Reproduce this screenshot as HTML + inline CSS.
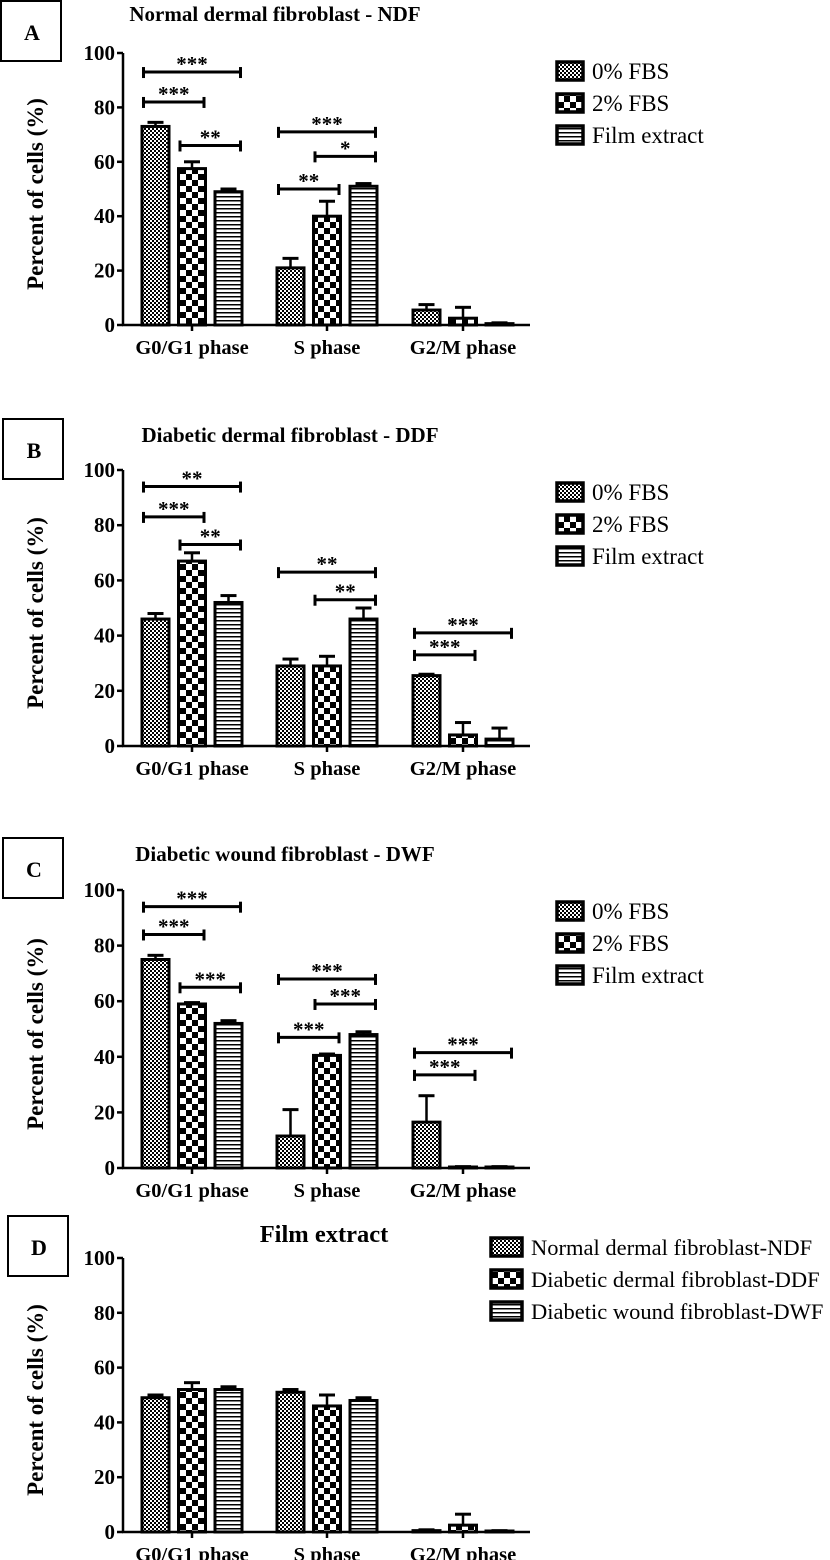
<!DOCTYPE html>
<html><head><meta charset="utf-8"><style>
body{margin:0;background:#fff}
svg{display:block;font-family:"Liberation Serif",serif}
</style></head><body>
<svg id="chart" width="830" height="1560" viewBox="0 0 830 1560">
<defs>
<pattern id="p0" width="4" height="4" patternUnits="userSpaceOnUse"><rect width="4" height="4" fill="#fff"/><rect width="2" height="2" fill="#000"/><rect x="2" y="2" width="2" height="2" fill="#000"/></pattern>
<pattern id="p1" width="12" height="12" patternUnits="userSpaceOnUse"><rect width="12" height="12" fill="#fff"/><rect width="6" height="6" fill="#000"/><rect x="6" y="6" width="6" height="6" fill="#000"/></pattern>
<pattern id="p2" width="4" height="4" patternUnits="userSpaceOnUse"><rect width="4" height="4" fill="#fff"/><rect width="4" height="1.5" fill="#000"/></pattern>
</defs>
</svg>
<script>
const categories=["G0/G1 phase","S phase","G2/M phase"];
const yTicks=[0,20,40,60,80,100];
const titles=["Normal dermal fibroblast - NDF","Diabetic dermal fibroblast - DDF","Diabetic wound fibroblast - DWF","Film extract"];
const letters=["A","B","C","D"];
const legendABC=["0% FBS","2% FBS","Film extract"];
const legendD=["Normal dermal fibroblast-NDF","Diabetic dermal fibroblast-DDF","Diabetic wound fibroblast-DWF"];
const valsA=[[73,21,5.5],[57.5,40,2.5],[49,51,0.5]];
const errA=[[1.5,3.5,2],[2.5,5.5,4],[1,1,0.3]];
const valsB=[[46,29,25.5],[67,29,4],[52,46,2.5]];
const errB=[[2,2.5,0.5],[3,3.5,4.5],[2.5,4,4]];
const valsC=[[75,11.5,16.5],[59,40.5,0.3],[52,48,0.3]];
const errC=[[1.5,9.5,9.5],[0.5,0.5,0.2],[1,1,0.2]];
const valsD=[[49,51,0.5],[52,46,2.5],[52,48,0.3]];
const errD=[[1,1,0.3],[2.5,4,4],[1,1,0.2]];
// significance: [group, fromBar, toBar, yValue, label]
const sigA=[[0,0,2,93,"***"],[0,0,1,82,"***"],[0,1,2,66,"**"],[1,0,2,71,"***"],[1,1,2,62,"*"],[1,0,1,50,"**"]];
const sigB=[[0,0,2,94,"**"],[0,0,1,83,"***"],[0,1,2,73,"**"],[1,0,2,63,"**"],[1,1,2,53,"**"],[2,0,2,41,"***"],[2,0,1,33,"***"]];
const sigC=[[0,0,2,94,"***"],[0,0,1,84,"***"],[0,1,2,65,"***"],[1,0,2,68,"***"],[1,1,2,59,"***"],[1,0,1,47,"***"],[2,0,2,41.5,"***"],[2,0,1,33.5,"***"]];
const sigD=[];

const svg=document.getElementById('chart');
const NS="http://www.w3.org/2000/svg";
function mk(tag,attrs,parent,text){const e=document.createElementNS(NS,tag);for(const k in attrs)e.setAttribute(k,attrs[k]);if(text!==undefined)e.textContent=text;parent.appendChild(e);return e;}

const panels=[
 {vals:valsA,err:errA,sig:sigA,top:53,bot:325,title:[275,21],tFs:21,box:[1,1],leg:legendABC,legX:557,legY:62,legW:26,legH:18,legDy:32,legFs:23},
 {vals:valsB,err:errB,sig:sigB,top:470,bot:746,title:[290,442],tFs:21,box:[3,419],leg:legendABC,legX:557,legY:483,legW:26,legH:18,legDy:32,legFs:23},
 {vals:valsC,err:errC,sig:sigC,top:890,bot:1168,title:[285,861],tFs:21,box:[3,838],leg:legendABC,legX:557,legY:902,legW:26,legH:18,legDy:32,legFs:23},
 {vals:valsD,err:errD,sig:sigD,top:1258,bot:1532,title:[324,1242],tFs:24.5,box:[8,1216],leg:legendD,legX:491,legY:1238,legW:31,legH:18,legDy:32,legFs:22.5}
];
const x0=123,x1=530,groupC=[192,327,463],barW=27,barStep=36.5;
const pats=["url(#p0)","url(#p1)","url(#p2)"];

panels.forEach((P,pi)=>{
 const g=mk('g',{},svg);
 
 
 const y=v=>P.bot-(v/100)*(P.bot-P.top);
 const bx=(gi,bi)=>groupC[gi]+(bi-1)*barStep;
 const box=mk('rect',{x:P.box[0],y:P.box[1],width:60,height:60,fill:'#fff',stroke:'#000','stroke-width':2},g);
 
 
 const lt=mk('text',{x:P.box[0]+31,y:P.box[1]+39,'text-anchor':'middle','font-size':22,'font-weight':'bold'},g,letters[pi]);
 
 
 const tt=mk('text',{x:P.title[0],y:P.title[1],'text-anchor':'middle','font-size':P.tFs,'font-weight':'bold'},g,titles[pi]);
 
 
 const yl=mk('text',{transform:`translate(43,${(P.top+P.bot)/2+5}) rotate(-90)`,'text-anchor':'middle','font-size':23,'font-weight':'bold'},g,'Percent of cells (%)');
 
 
 const ya=mk('line',{x1:x0,y1:P.top,x2:x0,y2:P.bot,stroke:'#000','stroke-width':2.5},g);
 
 
 const xa=mk('line',{x1:x0-1,y1:P.bot,x2:x1,y2:P.bot,stroke:'#000','stroke-width':2.5},g);
 
 
 yTicks.forEach(t=>{
  mk('line',{x1:x0-6,y1:y(t),x2:x0,y2:y(t),stroke:'#000','stroke-width':2.5},g);
  const tl=mk('text',{x:x0-8,y:y(t)+7,'text-anchor':'end','font-size':21,'font-weight':'bold'},g,String(t));
  
  
 });
 categories.forEach((c,gi)=>{
  mk('line',{x1:groupC[gi],y1:P.bot,x2:groupC[gi],y2:P.bot+6,stroke:'#000','stroke-width':2.5},g);
  const cl=mk('text',{x:groupC[gi],y:P.bot+29,'text-anchor':'middle','font-size':20.5,'font-weight':'bold'},g,c);
  
  
 });
 P.vals.forEach((series,si)=>{
  series.forEach((v,gi)=>{
   const cx=bx(gi,si);
   const e=P.err[si][gi];
   mk('line',{x1:cx,y1:y(v),x2:cx,y2:y(v+e),stroke:'#000','stroke-width':2.5},g);
   mk('line',{x1:cx-8,y1:y(v+e),x2:cx+8,y2:y(v+e),stroke:'#000','stroke-width':3},g);
   const h=Math.max(P.bot-y(v),1);
   const r=mk('rect',{x:cx-barW/2,y:P.bot-h,width:barW,height:h,fill:pats[si],stroke:'#000','stroke-width':3},g);
   
   
  });
 });
 P.sig.forEach(s=>{
  const xa1=bx(s[0],s[1])-12,xa2=bx(s[0],s[2])+12,yy=y(s[3]);
  const sg=mk('g',{},g);
  
  
  mk('line',{x1:xa1,y1:yy,x2:xa2,y2:yy,stroke:'#000','stroke-width':3},sg);
  mk('line',{x1:xa1,y1:yy-5,x2:xa1,y2:yy+6,stroke:'#000','stroke-width':3},sg);
  mk('line',{x1:xa2,y1:yy-5,x2:xa2,y2:yy+6,stroke:'#000','stroke-width':3},sg);
  mk('text',{x:(xa1+xa2)/2,y:yy-1,'text-anchor':'middle','font-size':21,'font-weight':'bold'},sg,s[4]);
 });
 P.leg.forEach((l,li)=>{
  const ly=P.legY+li*P.legDy;
  const le=mk('g',{},g);
  
  
  mk('rect',{x:P.legX,y:ly,width:P.legW,height:P.legH,fill:pats[li],stroke:'#000','stroke-width':3.5},le);
  mk('text',{x:P.legX+P.legW+9,y:ly+17,'font-size':P.legFs},le,l);
 });
});
</script>
</body></html>
